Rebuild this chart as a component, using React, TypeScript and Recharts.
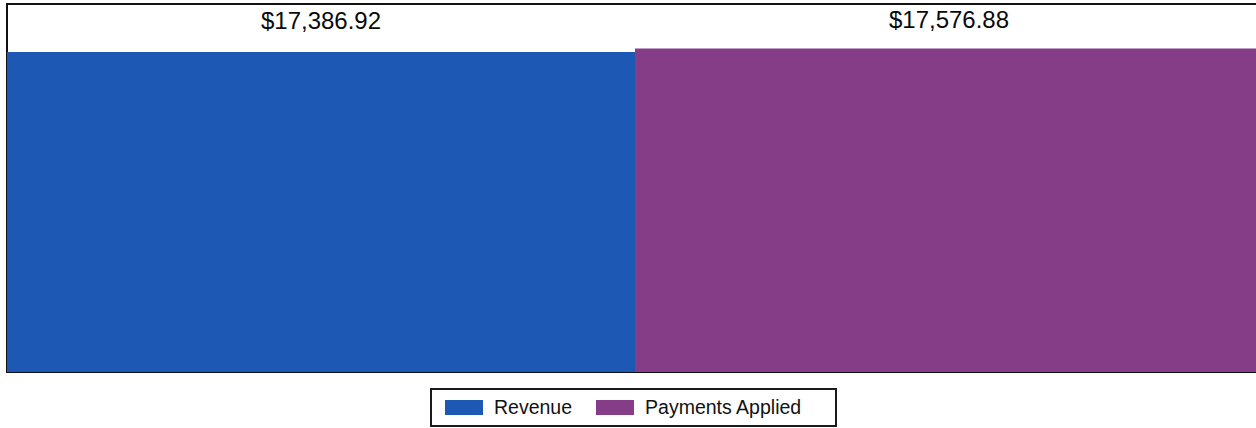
import { BarChart, Bar, XAxis, YAxis, Legend, LabelList, ReferenceArea } from 'recharts'

const categories = ['Summary']
const revenueValues = [17386.92]
const paymentsValues = [17576.88]
const seriesLabels = { revenue: 'Revenue', payments: 'Payments Applied' }

const COLORS = {
  revenue: '#1d58b4',
  payments: '#853d87',
}

const data = categories.map((name, i) => ({
  name,
  revenue: revenueValues[i],
  payments: paymentsValues[i],
}))

const FONT = '"Liberation Sans", Arial, sans-serif'

function formatMoney(v: any) {
  return '$' + Number(v).toLocaleString('en-US', { minimumFractionDigits: 2, maximumFractionDigits: 2 })
}

// value label drawn above the bar top
function TopLabel(props: any) {
  const { x, y, width, value, gap } = props
  return (
    <text
      x={Number(x) + Number(width) / 2}
      y={Number(y) - gap}
      textAnchor="middle"
      fill="#0a0a0a"
      fontSize={24}
      fontFamily={FONT}
    >
      {formatMoney(value)}
    </text>
  )
}

function BoxLegend() {
  const items = [
    { key: 'revenue', label: seriesLabels.revenue, color: COLORS.revenue },
    { key: 'payments', label: seriesLabels.payments, color: COLORS.payments },
  ]
  return (
    <div style={{
      display: 'flex',
      alignItems: 'center',
      width: '407px',
      height: '39px',
      boxSizing: 'border-box',
      border: '2px solid #1a1a1a',
      paddingLeft: '13px',
      fontFamily: FONT,
      background: '#fff',
    }}>
      {items.map((it, i) => (
        <div key={it.key} style={{ display: 'flex', alignItems: 'center', marginRight: i === 0 ? '24px' : 0 }}>
          <div style={{ width: '38px', height: '15px', background: it.color, marginRight: '11px' }} />
          <span style={{ fontSize: '19.5px', color: '#111' }}>{it.label}</span>
        </div>
      ))}
    </div>
  )
}

export default function App() {
  return (
    <div style={{ position: 'absolute', left: 0, top: 0, width: 1256, height: 428, overflow: 'hidden', background: '#fff' }}>
      <BarChart
        width={1262}
        height={428}
        data={data}
        margin={{ top: 4, right: 0, bottom: 56, left: 7 }}
        barGap={0}
        barCategoryGap={0}
      >
        <XAxis dataKey="name" hide />
        <YAxis domain={[0, 20000]} hide />
        <Legend
          verticalAlign="middle"
          align="center"
          wrapperStyle={{ top: 388, left: 430, width: 'auto' }}
          content={<BoxLegend />}
        />
        <Bar dataKey="revenue" name={seriesLabels.revenue} fill={COLORS.revenue} isAnimationActive={false}>
          <LabelList dataKey="revenue" content={(p: any) => <TopLabel {...p} gap={23} />} />
        </Bar>
        <Bar dataKey="payments" name={seriesLabels.payments} fill={COLORS.payments} isAnimationActive={false}>
          <LabelList dataKey="payments" content={(p: any) => <TopLabel {...p} gap={21} />} />
        </Bar>
        <ReferenceArea y1={0} y2={20000} fill="none" stroke="#111" strokeWidth={2} ifOverflow="visible" />
      </BarChart>
    </div>
  )
}
